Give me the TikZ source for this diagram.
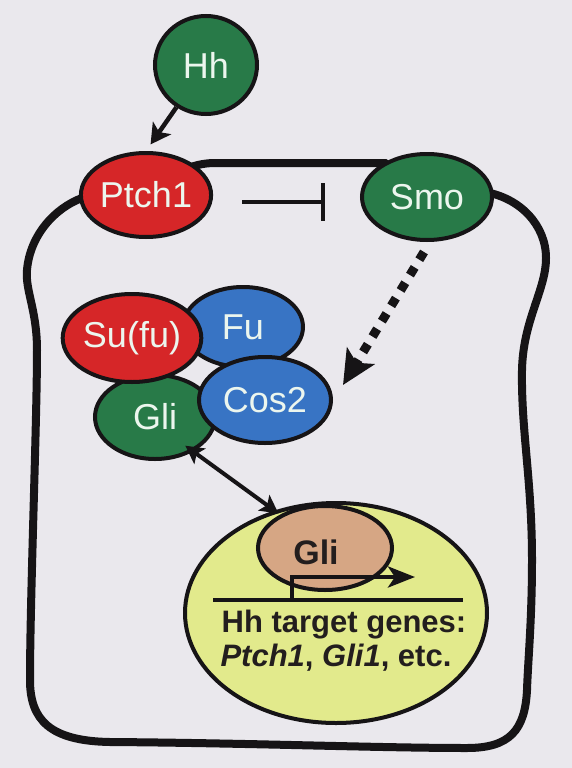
\documentclass[tikz,border=0pt]{standalone}
\usepackage{fontspec}
\setmainfont{Liberation Sans}
\usetikzlibrary{shapes.geometric,arrows.meta}
\definecolor{bg}{RGB}{234,232,237}
\definecolor{outl}{RGB}{22,20,22}
\definecolor{hgreen}{RGB}{40,122,72}
\definecolor{hred}{RGB}{214,38,40}
\definecolor{hblue}{RGB}{56,116,196}
\definecolor{nucl}{RGB}{226,234,140}
\definecolor{tanc}{RGB}{214,166,132}
\definecolor{lbl}{RGB}{236,246,238}
\definecolor{dtext}{RGB}{35,30,30}
\begin{document}
\begin{tikzpicture}[x=1pt,y=-1pt,
  blob/.style={ellipse,draw=outl,line width=4pt,inner sep=0pt,text=lbl,
    font=\fontsize{36}{40}\selectfont},
  cellline/.style={draw=outl,line width=8pt},
  arr/.style={draw=outl,line width=4.5pt,-{Stealth[length=20pt,width=22pt,inset=5pt]}},
  darr/.style={draw=outl,line width=4pt,{Stealth[length=18pt,width=19pt,inset=4pt]}-{Stealth[length=18pt,width=19pt,inset=4pt]}},
  inh/.style={draw=outl,line width=4.5pt,-{Bar[width=38pt,line width=4.5pt]}},
  dotarr/.style={draw=outl,line width=9pt,dash pattern=on 9pt off 9pt,-{Stealth[length=34pt,width=32pt,inset=8pt]}},
  gtext/.style={text=dtext,font=\bfseries\fontsize{31}{34}\selectfont,inner sep=0pt}
]
\useasboundingbox (0,0) rectangle (572,768);
\fill[bg] (0,0) rectangle (572,768);

% cell membrane
\draw[cellline] (146,195) .. controls (170,175) and (190,163) .. (215,163) -- (385,163) -- (427,197) -- (485,192)
  .. controls (520,198) and (546,225) .. (546,258)
  .. controls (546,290) and (523,320) .. (522,370)
  .. controls (521,430) and (532,480) .. (532,560)
  .. controls (532,620) and (528,660) .. (527,690)
  .. controls (525,730) and (510,748) .. (467,748)
  .. controls (380,748) and (250,743) .. (110,742)
  .. controls (50,741) and (30,720) .. (30,680)
  .. controls (30,600) and (37,420) .. (37,350)
  .. controls (37,310) and (25,290) .. (27,270)
  .. controls (30,235) and (55,208) .. (82,198) -- cycle;

% nucleus
\node[ellipse,draw=outl,fill=nucl,line width=4pt,minimum width=302pt,minimum height=220pt,inner sep=0pt] (nuc) at (336,613) {};
\node[ellipse,draw=outl,fill=tanc,line width=4pt,minimum width=134pt,minimum height=84pt,inner sep=0pt] (gliN) at (325,548) {};
\node[text=dtext,font=\bfseries\fontsize{34}{38}\selectfont,inner sep=0pt] (gliNt) at (316,552) {Gli};
\draw[outl,line width=4pt] (213,600) -- (463,600);
\draw[draw=outl,line width=4.5pt,-{Stealth[length=27pt,width=21pt,inset=7pt]}] (292,601) -- (292,577) -- (415,577);
\node[gtext,anchor=base] (tg1) at (344,632) {Hh target genes:};
\node[gtext,anchor=base] (tg2) at (336,666) {\itshape Ptch1\upshape, \itshape Gli1\upshape, etc.};

% complex
\node[blob,fill=hblue,minimum width=120pt,minimum height=80pt] (fu) at (243,327) {Fu};
\node[blob,fill=hgreen,minimum width=120pt,minimum height=84pt] (gliC) at (155,417) {Gli};
\node[blob,fill=hred,minimum width=130pt,minimum height=88pt] (sufu) at (132,338) {Su(fu)};
\node[blob,fill=hblue,minimum width=132pt,minimum height=86pt] (cos) at (265,400) {Cos2};

% membrane proteins
\node[blob,fill=hred,minimum width=128pt,minimum height=84pt] (ptch) at (146,195) {Ptch1};
\node[blob,fill=hgreen,minimum width=130pt,minimum height=86pt] (smo) at (427,197) {Smo};
\node[blob,fill=hgreen,minimum width=102pt,minimum height=98pt] (hh) at (206,65) {Hh};

% connectors
\draw[arr,shorten >=8pt] (hh.235) -- (ptch.north);
\draw[inh,shorten <=29pt,shorten >=35pt] ([yshift=-7pt]ptch.east) -- ([yshift=-5pt]smo.west);
\coordinate (d1) at (424,252);
\coordinate (d2) at (343,385);
\draw[dotarr] (d1) -- (d2);
\draw[darr,shorten <=-10pt,shorten >=-5pt] (gliC.-42) -- (nuc.121);
\end{tikzpicture}
\end{document}
